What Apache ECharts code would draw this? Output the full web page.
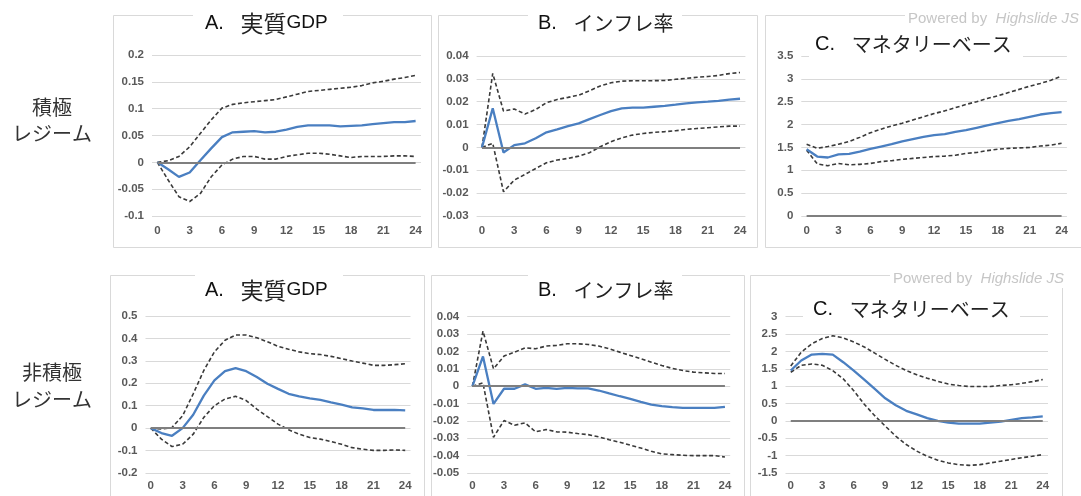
<!DOCTYPE html>
<html>
<head>
<meta charset="utf-8">
<script src="https://cdn.jsdelivr.net/npm/echarts@6/dist/echarts.min.js"></script>
<style>
  html, body { margin: 0; padding: 0; background: #fff; }
  #chart { width: 1081px; height: 496px; }
</style>
</head>
<body>
<div id="chart"></div>
<script>
// Months after the shock (horizontal axis of every panel)
const months = ['0','1','2','3','4','5','6','7','8','9','10','11','12','13','14','15','16','17','18','19','20','21','22','23','24'];

// Panel titles (letter, name) and regime labels
const panelTitles = [['A.', '実質', 'GDP'], ['B.', 'インフレ率', ''], ['C.', 'マネタリーベース', '']];
const regimeLabels = [['積極', 'レジーム'], ['非積極', 'レジーム']];
const creditText = ['Powered by  ', 'Highslide JS'];

// Value-axis ranges: [min, max, step]
const activeGdpAxis   = [-0.1, 0.2, 0.05];
const activeInflAxis  = [-0.03, 0.04, 0.01];
const activeBaseAxis  = [0, 3.5, 0.5];
const passiveGdpAxis  = [-0.2, 0.5, 0.1];
const passiveInflAxis = [-0.05, 0.04, 0.01];
const passiveBaseAxis = [-1.5, 3, 0.5];

// 積極レジーム: responses with upper / lower bands
const activeGdp    = [0, -0.013, -0.027, -0.019, 0.004, 0.026, 0.047, 0.056, 0.057, 0.058, 0.056, 0.057, 0.061, 0.066, 0.069, 0.069, 0.069, 0.067, 0.068, 0.069, 0.071, 0.073, 0.075, 0.075, 0.077];
const activeGdpHi  = [0, 0.003, 0.011, 0.029, 0.054, 0.079, 0.101, 0.108, 0.111, 0.113, 0.115, 0.117, 0.122, 0.127, 0.132, 0.134, 0.136, 0.138, 0.140, 0.143, 0.148, 0.151, 0.155, 0.158, 0.162];
const activeGdpLo  = [0, -0.033, -0.064, -0.073, -0.058, -0.027, -0.005, 0.006, 0.011, 0.011, 0.006, 0.006, 0.011, 0.014, 0.017, 0.017, 0.015, 0.012, 0.009, 0.011, 0.011, 0.011, 0.012, 0.012, 0.011];

const activeInfl   = [0, 0.0171, -0.0022, 0.001, 0.0018, 0.004, 0.0066, 0.0079, 0.0093, 0.0105, 0.0124, 0.0142, 0.0159, 0.0171, 0.0174, 0.0174, 0.0178, 0.0182, 0.0187, 0.0193, 0.0197, 0.0200, 0.0204, 0.0209, 0.0213];
const activeInflHi = [0, 0.0324, 0.0159, 0.0168, 0.0146, 0.0166, 0.0196, 0.021, 0.0219, 0.0229, 0.0248, 0.0269, 0.0283, 0.029, 0.0292, 0.0292, 0.0292, 0.0293, 0.0298, 0.0302, 0.0307, 0.031, 0.0315, 0.0323, 0.0328];
const activeInflLo = [0, 0.0018, -0.0194, -0.0143, -0.0118, -0.0092, -0.0067, -0.0055, -0.0048, -0.0038, -0.0023, 0.0003, 0.0025, 0.0042, 0.0054, 0.0061, 0.0066, 0.0069, 0.0073, 0.0079, 0.0083, 0.0086, 0.009, 0.0093, 0.0093];

const activeBase   = [1.46, 1.30, 1.28, 1.35, 1.36, 1.41, 1.47, 1.52, 1.57, 1.63, 1.68, 1.73, 1.77, 1.79, 1.84, 1.88, 1.93, 1.98, 2.03, 2.08, 2.12, 2.17, 2.22, 2.25, 2.27];
const activeBaseHi = [1.57, 1.48, 1.52, 1.57, 1.63, 1.72, 1.82, 1.90, 1.97, 2.03, 2.10, 2.17, 2.24, 2.30, 2.37, 2.44, 2.50, 2.57, 2.63, 2.70, 2.77, 2.84, 2.90, 2.97, 3.06];
const activeBaseLo = [1.44, 1.14, 1.10, 1.15, 1.12, 1.13, 1.15, 1.19, 1.21, 1.24, 1.26, 1.28, 1.30, 1.31, 1.33, 1.37, 1.39, 1.43, 1.46, 1.48, 1.49, 1.50, 1.53, 1.55, 1.59];

// 非積極レジーム
const passiveGdp    = [0, -0.022, -0.034, 0.0, 0.06, 0.145, 0.213, 0.254, 0.268, 0.254, 0.228, 0.198, 0.175, 0.153, 0.142, 0.133, 0.126, 0.115, 0.105, 0.093, 0.088, 0.081, 0.081, 0.081, 0.079];
const passiveGdpHi  = [0, -0.004, 0.003, 0.055, 0.153, 0.257, 0.34, 0.392, 0.415, 0.415, 0.403, 0.385, 0.365, 0.352, 0.34, 0.332, 0.328, 0.32, 0.31, 0.299, 0.29, 0.28, 0.28, 0.283, 0.287];
const passiveGdpLo  = [0, -0.049, -0.082, -0.072, -0.027, 0.048, 0.1, 0.13, 0.142, 0.123, 0.085, 0.051, 0.018, -0.007, -0.027, -0.042, -0.049, -0.06, -0.072, -0.087, -0.094, -0.099, -0.099, -0.097, -0.099];

const passiveInfl   = [0, 0.0171, -0.0102, -0.0015, -0.0015, 0.001, -0.0015, -0.001, -0.0015, -0.001, -0.0013, -0.0013, -0.0025, -0.0042, -0.0058, -0.0073, -0.009, -0.0106, -0.0115, -0.0121, -0.0125, -0.0125, -0.0125, -0.0125, -0.0119];
const passiveInflHi = [0, 0.0317, 0.010, 0.0173, 0.0196, 0.0221, 0.0215, 0.0231, 0.0235, 0.0244, 0.0244, 0.024, 0.0231, 0.0215, 0.0196, 0.0177, 0.0158, 0.0138, 0.0119, 0.0102, 0.009, 0.0081, 0.0077, 0.0073, 0.0073];
const passiveInflLo = [0, 0.0019, -0.0294, -0.0198, -0.0225, -0.0211, -0.0263, -0.025, -0.0263, -0.0265, -0.0273, -0.0279, -0.0292, -0.0308, -0.0323, -0.034, -0.0356, -0.0375, -0.039, -0.0394, -0.0398, -0.04, -0.04, -0.04, -0.0408];

const passiveBase   = [1.45, 1.74, 1.91, 1.93, 1.91, 1.69, 1.45, 1.19, 0.92, 0.65, 0.45, 0.29, 0.19, 0.08, 0.0, -0.05, -0.08, -0.08, -0.08, -0.05, -0.02, 0.03, 0.08, 0.1, 0.13];
const passiveBaseHi = [1.58, 1.98, 2.22, 2.37, 2.45, 2.39, 2.27, 2.13, 1.95, 1.77, 1.60, 1.45, 1.33, 1.23, 1.14, 1.06, 1.02, 0.99, 0.99, 0.99, 1.02, 1.04, 1.08, 1.13, 1.19];
const passiveBaseLo = [1.40, 1.60, 1.64, 1.60, 1.45, 1.21, 0.87, 0.48, 0.15, -0.15, -0.44, -0.68, -0.87, -1.02, -1.13, -1.21, -1.26, -1.28, -1.26, -1.21, -1.16, -1.11, -1.06, -1.02, -0.97];

// ---- layout of the six small charts ----
const BLUE = '#4a7fc1';
const BAND = '#3a3a3a';
const ZERO = '#7f7f7f';
const LATIN = '"Liberation Sans", Arial, sans-serif';
const CJK = '"Noto Sans CJK JP", sans-serif';
const TICK_FONT = { color: '#595959', fontSize: 11.5, fontWeight: 'bold', fontFamily: LATIN };

const panels = [
  { axis: activeGdpAxis,   mid: activeGdp,   hi: activeGdpHi,   lo: activeGdpLo,
    grid: { left: 152, top: 55, width: 269, height: 161 }, xMargin: 9,
    box: [113, 15, 318, 232], title: panelTitles[0], kanji: 23, tx: 205, ty: 23, gap: [193, 5, 150, 22] },
  { axis: activeInflAxis,  mid: activeInfl,  hi: activeInflHi,  lo: activeInflLo,
    grid: { left: 476.6, top: 56, width: 268.8, height: 160 }, xMargin: 9,
    box: [438, 15, 319, 232], title: panelTitles[1], kanji: 20, tx: 538, ty: 23, gap: [528, 5, 154, 22] },
  { axis: activeBaseAxis,  mid: activeBase,  hi: activeBaseHi,  lo: activeBaseLo,
    grid: { left: 801.3, top: 56, width: 265.6, height: 160 }, xMargin: 9,
    box: [765, 15, 330, 232], title: panelTitles[2], kanji: 20, tx: 815, ty: 44, gap: [809, 32, 214, 27] },
  { axis: passiveGdpAxis,  mid: passiveGdp,  hi: passiveGdpHi,  lo: passiveGdpLo,
    grid: { left: 145.5, top: 316, width: 265, height: 157 }, xMargin: 7,
    box: [110, 275, 314, 260], title: panelTitles[0], kanji: 23, tx: 205, ty: 290, gap: [195, 265, 148, 22] },
  { axis: passiveInflAxis, mid: passiveInfl, hi: passiveInflHi, lo: passiveInflLo,
    grid: { left: 467.2, top: 316.7, width: 263, height: 156.3 }, xMargin: 7,
    box: [431, 275, 313, 260], title: panelTitles[1], kanji: 20, tx: 538, ty: 290, gap: [528, 265, 154, 22] },
  { axis: passiveBaseAxis, mid: passiveBase, hi: passiveBaseHi, lo: passiveBaseLo,
    grid: { left: 785.5, top: 316.7, width: 262.5, height: 156.3 }, xMargin: 7,
    box: [750, 275, 312, 260], title: panelTitles[2], kanji: 20, tx: 813, ty: 309, gap: [803, 297, 217, 24] }
];

const grid = [], xAxis = [], yAxis = [], series = [], graphic = [];

panels.forEach((p, i) => {
  grid.push(Object.assign({ containLabel: false }, p.grid));
  xAxis.push({
    type: 'category', gridIndex: i, data: months, boundaryGap: true,
    axisLine: { show: false }, axisTick: { show: false },
    axisLabel: Object.assign({ interval: 2, margin: p.xMargin }, TICK_FONT),
    splitLine: { show: false }
  });
  yAxis.push({
    type: 'value', gridIndex: i, min: p.axis[0], max: p.axis[1], interval: p.axis[2],
    axisLine: { show: false }, axisTick: { show: false },
    axisLabel: Object.assign({ margin: 8 }, TICK_FONT),
    splitLine: { lineStyle: { color: '#d9d9d9', width: 1 } }
  });

  // zero reference line from the first to the last month
  series.push({
    type: 'line', xAxisIndex: i, yAxisIndex: i, data: [], silent: true, z: 1,
    markLine: {
      silent: true, symbol: ['none', 'none'], label: { show: false },
      emphasis: { disabled: true },
      lineStyle: { color: ZERO, width: 1.8, type: 'solid' },
      data: [[{ coord: [months[0], 0] }, { coord: [months[months.length - 1], 0] }]]
    }
  });
  [p.hi, p.lo].forEach(band => {
    series.push({
      type: 'line', xAxisIndex: i, yAxisIndex: i, data: band, z: 2,
      symbol: 'none', silent: true, smooth: false,
      lineStyle: { color: BAND, width: 1.6, type: [4, 2.5] }
    });
  });
  series.push({
    type: 'line', xAxisIndex: i, yAxisIndex: i, data: p.mid, z: 3,
    symbol: 'none', silent: true, smooth: false,
    lineStyle: { color: BLUE, width: 2.3 }
  });

  // frame, title backdrop, title
  graphic.push({
    type: 'rect', z: 1, silent: true,
    shape: { x: p.box[0] + 0.5, y: p.box[1] + 0.5, width: p.box[2], height: p.box[3] },
    style: { fill: 'none', stroke: '#d9d9d9', lineWidth: 1 }
  });
  graphic.push({
    type: 'rect', z: 50, silent: true,
    shape: { x: p.gap[0], y: p.gap[1], width: p.gap[2], height: p.gap[3] },
    style: { fill: '#ffffff' }
  });
  const t = p.title;
  graphic.push({
    type: 'text', z: 60, silent: true, x: p.tx, y: p.ty,
    style: {
      text: '{l|' + t[0] + '}{s|   }{k|' + t[1] + '}' + (t[2] ? '{g|' + t[2] + '}' : ''),
      textAlign: 'left', textVerticalAlign: 'middle',
      rich: {
        l: { font: '20px ' + LATIN, fill: '#111' },
        s: { font: '20px ' + LATIN, fill: '#111' },
        k: { font: p.kanji + 'px ' + CJK, fill: '#222' },
        g: { font: '19px ' + LATIN, fill: '#111' }
      }
    }
  });
});

// regime labels on the left
[[107, 133], [372, 399]].forEach((ys, r) => {
  regimeLabels[r].forEach((line, k) => {
    graphic.push({
      type: 'text', z: 60, silent: true, x: 52, y: ys[k],
      style: { text: line, font: '20px ' + CJK, fill: '#333333',
               textAlign: 'center', textVerticalAlign: 'middle' }
    });
  });
});

// credit lines on the right-hand panels
[[908, 19, 905, 11], [893, 279, 890, 271]].forEach(c => {
  graphic.push({
    type: 'rect', z: 50, silent: true,
    shape: { x: c[2], y: c[3], width: 176, height: 17 }, style: { fill: '#ffffff' }
  });
  graphic.push({
    type: 'text', z: 60, silent: true, x: c[0], y: c[1],
    style: {
      text: '{a|' + creditText[0] + '}{b|' + creditText[1] + '}',
      textVerticalAlign: 'middle',
      rich: {
        a: { font: '15px ' + LATIN, fill: '#c6c6c6' },
        b: { font: 'italic 15px ' + LATIN, fill: '#c6c6c6' }
      }
    }
  });
});

const chart = echarts.init(document.getElementById('chart'), null, { renderer: 'canvas' });
chart.setOption({
  animation: false,
  backgroundColor: '#ffffff',
  grid, xAxis, yAxis, series, graphic
});
</script>
</body>
</html>
